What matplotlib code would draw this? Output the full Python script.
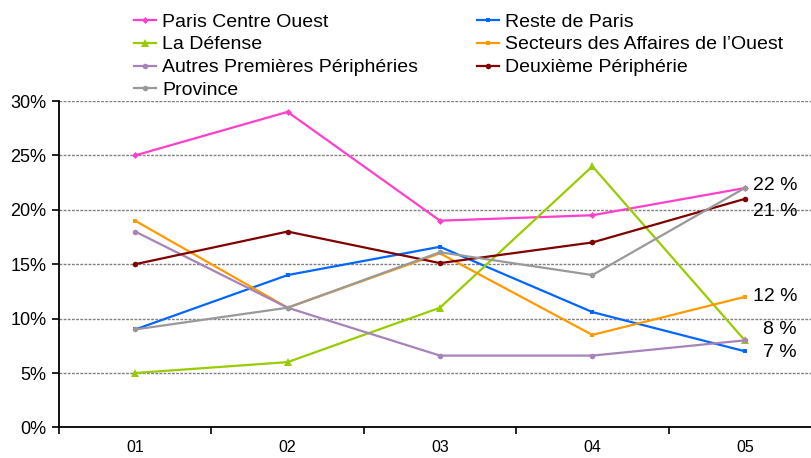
import matplotlib.pyplot as plt

plt.rcParams['font.family'] = ['Liberation Sans', 'DejaVu Sans']

periodes = ['01', '02', '03', '04', '05']

paris_centre_ouest = [25, 29, 19, 19.5, 22]
reste_de_paris = [9, 14, 16.6, 10.6, 7]
la_defense = [5, 6, 11, 24, 8]
secteurs_ouest = [19, 11, 16, 8.5, 12]
autres_premieres = [18, 11, 6.6, 6.6, 8]
deuxieme_peripherie = [15, 18, 15.1, 17, 21]
province = [9, 11, 16.1, 14, 22]

series = [
    ('Paris Centre Ouest', paris_centre_ouest, '#FF3FCC', 'D', 3.5),
    ('Reste de Paris', reste_de_paris, '#0066FF', 's', 3),
    ('La Défense', la_defense, '#99CC00', '^', 5.5),
    ("Secteurs des Affaires de l’Ouest", secteurs_ouest, '#FF9900', 's', 3),
    ('Autres Premières Périphéries', autres_premieres, '#A683B8', 'o', 4),
    ('Deuxième Périphérie', deuxieme_peripherie, '#800000', 'o', 4),
    ('Province', province, '#999999', 'o', 4),
]

# libelles en fin de courbe
end_labels = ['22 %', '21 %', '12 %', '8 %', '7 %']
end_values = [22, 21, 12, 8, 7]

fig = plt.figure(figsize=(8.12, 4.58), dpi=100)
ax = fig.add_axes([59 / 812, 30.6 / 458, 762 / 812, 326.4 / 458])

x = list(range(len(periodes)))
handles = {}
for name, vals, col, mk, ms in series:
    ln, = ax.plot(x, vals, color=col, lw=1.6, marker=mk, markersize=ms,
                  markeredgewidth=0, label=name)
    handles[name] = ln

ax.set_xlim(-0.5, len(periodes) - 0.5)
ax.set_ylim(0, 30)
ax.set_yticks([0, 5, 10, 15, 20, 25, 30])
ax.set_yticklabels([str(v) + '%' for v in [0, 5, 10, 15, 20, 25, 30]], fontsize=13)
ax.set_xticks([i - 0.5 for i in range(len(periodes) + 1)])
ax.set_xticklabels([])
ax.set_xticks(x, minor=True)
ax.set_xticklabels(periodes, minor=True, fontsize=11.5)
ax.tick_params(axis='x', which='minor', length=0, pad=9)
ax.tick_params(axis='x', which='major', length=5, width=1.2, direction='out')
ax.tick_params(axis='y', length=5, width=1.2, direction='out', pad=4)

for v in [5, 10, 15, 20, 25, 30]:
    ax.axhline(v, color='#808080', lw=1, ls=(0, (2, 1)), zorder=0)

for s in ['top', 'right']:
    ax.spines[s].set_visible(False)
ax.spines['left'].set_linewidth(1.3)
ax.spines['bottom'].set_linewidth(1.3)

# position des libelles (pixels)
offsets = [(8, 3), (8, -13), (8, 0), (18, 11), (18, -1)]
for lab, v, off in zip(end_labels, end_values, offsets):
    ax.annotate(lab, (4, v), xytext=off, textcoords='offset pixels',
                fontsize=14, va='center', ha='left', annotation_clip=False)

order = ['Paris Centre Ouest', 'La Défense', 'Autres Premières Périphéries', 'Province',
         'Reste de Paris', "Secteurs des Affaires de l’Ouest", 'Deuxième Périphérie']
fig.legend([handles[n] for n in order], order, loc='upper left',
           bbox_to_anchor=(134 / 812, 1 - 13 / 458), ncol=2, frameon=False,
           fontsize=14, borderpad=0, borderaxespad=0, handlelength=1.15,
           handletextpad=0.3, columnspacing=3.0, labelspacing=0.27)

plt.savefig('out.png', dpi=100)
